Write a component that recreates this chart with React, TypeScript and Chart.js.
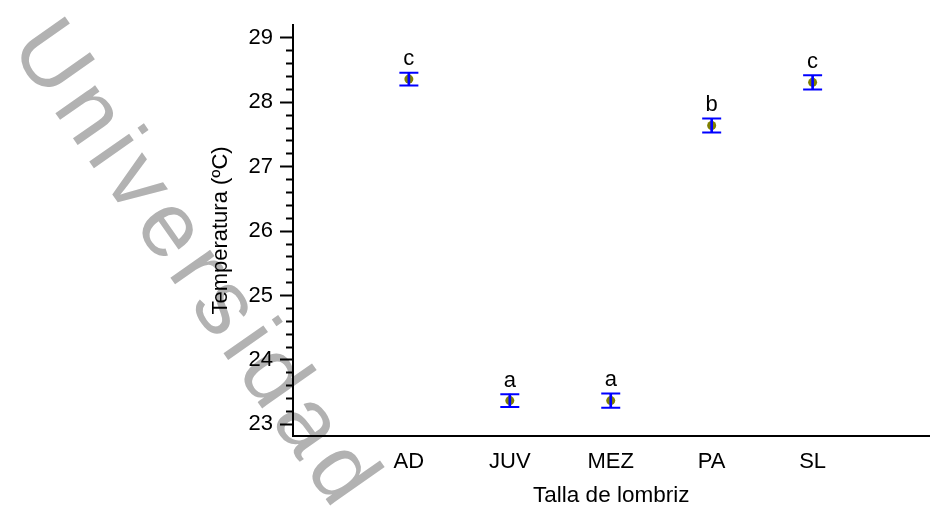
import React, { useEffect, useRef } from 'react';
import { Chart, registerables } from 'chart.js';

Chart.register(...registerables);

const categories = ['AD', 'JUV', 'MEZ', 'PA', 'SL'];
const means = [28.36, 23.37, 23.37, 27.64, 28.31];
const errors = [0.10, 0.10, 0.11, 0.11, 0.11];
const letters = ['c', 'a', 'a', 'b', 'c'];
const yMajorTicks = [23, 24, 25, 26, 27, 28, 29];
const yMinorTicks = [
  23.2, 23.4, 23.6, 23.8, 24.2, 24.4, 24.6, 24.8, 25.2, 25.4, 25.6, 25.8,
  26.2, 26.4, 26.6, 26.8, 27.2, 27.4, 27.6, 27.8, 28.2, 28.4, 28.6, 28.8,
];
const xTitle = 'Talla de lombriz';
const yTitle = 'Temperatura (ºC)';
const watermarkText = 'Universidad';

const FONT = "'Liberation Sans', Arial, Helvetica, sans-serif";

export default function App() {
  const ref = useRef<HTMLCanvasElement>(null);

  useEffect(() => {
    const canvas = ref.current;
    if (!canvas) return;
    const xs = categories.map((_, i) => i + 1);

    const watermark = {
      id: 'watermark',
      beforeDraw(chart: any) {
        const ctx = chart.ctx;
        ctx.save();
        ctx.translate(9, 47);
        ctx.rotate((55 * Math.PI) / 180);
        ctx.font = `92px ${FONT}`;
        try {
          (ctx as any).letterSpacing = '8px';
        } catch (e) {
          /* ignore */
        }
        ctx.fillStyle = '#b2b2b2';
        ctx.textAlign = 'left';
        ctx.textBaseline = 'alphabetic';
        ctx.fillText(watermarkText, 0, 0);
        ctx.restore();
      },
    };

    const letterPlugin = {
      id: 'letters',
      afterDatasetsDraw(chart: any) {
        const { ctx } = chart;
        const x = chart.scales.x;
        const y = chart.scales.y;
        ctx.save();
        ctx.font = `22px ${FONT}`;
        ctx.fillStyle = '#000';
        ctx.textAlign = 'center';
        ctx.textBaseline = 'alphabetic';
        letters.forEach((l, i) => {
          ctx.fillText(l, x.getPixelForValue(xs[i]), y.getPixelForValue(means[i] + errors[i]) - 7.5);
        });
        ctx.restore();
      },
    };

    const chart = new Chart(canvas, {
      type: 'scatter',
      data: {
        datasets: [
          {
            type: 'scatter',
            label: 'upper',
            data: xs.map((x, i) => ({ x, y: means[i] + errors[i] })),
            pointStyle: 'line',
            pointRadius: 9.5,
            pointHoverRadius: 9.5,
            borderColor: '#0000ff',
            borderWidth: 2,
            order: 0,
          },
          {
            type: 'scatter',
            label: 'lower',
            data: xs.map((x, i) => ({ x, y: means[i] - errors[i] })),
            pointStyle: 'line',
            pointRadius: 9.5,
            pointHoverRadius: 9.5,
            borderColor: '#0000ff',
            borderWidth: 2,
            order: 0,
          },
          {
            type: 'bar',
            label: 'stem',
            data: xs.map((x, i) => ({ x, y: [means[i] - errors[i], means[i] + errors[i]] })) as any,
            backgroundColor: '#0000ff',
            borderWidth: 0,
            barThickness: 2,
            grouped: false,
            order: 1,
          } as any,
          {
            type: 'scatter',
            label: 'mean',
            data: xs.map((x, i) => ({ x, y: means[i] })),
            pointStyle: 'circle',
            pointRadius: 4.5,
            pointHoverRadius: 4.5,
            backgroundColor: '#808000',
            borderWidth: 0,
            order: 2,
          },
        ],
      },
      options: {
        responsive: false,
        animation: false,
        devicePixelRatio: 1,
        layout: { padding: { left: 208, top: 25, right: 0, bottom: 0 } },
        plugins: {
          legend: { display: false },
          tooltip: { enabled: false },
        },
        scales: {
          x: {
            type: 'linear',
            position: 'bottom',
            min: -0.148,
            max: 6.158,
            offset: false,
            afterBuildTicks: (s: any) => {
              s.ticks = xs.map((v) => ({ value: v }));
            },
            afterFit: (s: any) => {
              s.height = 74;
            },
            ticks: {
              callback: (v: any) => categories[Math.round(Number(v)) - 1] ?? '',
              font: { family: FONT, size: 22 },
              color: '#000',
              padding: 13,
              maxRotation: 0,
              autoSkip: false,
            },
            grid: { display: true, drawOnChartArea: false, drawTicks: false, offset: false },
            border: { display: true, color: '#000', width: 2 },
            title: {
              display: true,
              text: xTitle,
              font: { family: FONT, size: 22.5 },
              color: '#000',
              padding: { top: 0, bottom: 1 },
            },
          },
          y: {
            type: 'linear',
            position: 'left',
            weight: 1,
            min: 22.82,
            max: 29.2,
            afterBuildTicks: (s: any) => {
              s.ticks = yMajorTicks.map((v) => ({ value: v }));
            },
            afterFit: (s: any) => {
              s.width = 85;
            },
            ticks: {
              callback: (v: any) => String(v),
              font: { family: FONT, size: 22 },
              color: '#000',
              padding: 7,
            },
            grid: { drawOnChartArea: false, drawTicks: true, tickLength: 13, tickWidth: 2, tickColor: '#000' },
            border: { display: true, color: '#000', width: 2 },
            title: {
              display: true,
              text: yTitle,
              font: { family: FONT, size: 22 },
              color: '#000',
              padding: 0,
            },
          },
          y2: {
            type: 'linear',
            position: 'left',
            weight: 0,
            min: 22.82,
            max: 29.2,
            afterBuildTicks: (s: any) => {
              s.ticks = yMinorTicks.map((v) => ({ value: v }));
            },
            afterFit: (s: any) => {
              s.width = 0;
            },
            ticks: { display: false },
            grid: { drawOnChartArea: false, drawTicks: true, tickLength: 7, tickWidth: 2, tickColor: '#000' },
            border: { display: false },
          },
        },
      } as any,
      plugins: [watermark, letterPlugin],
    });

    return () => chart.destroy();
  }, []);

  return (
    <div style={{ position: 'absolute', left: 0, top: 0, width: 931, height: 507, overflow: 'hidden', background: '#fff' }}>
      <canvas ref={ref} width={941} height={510} style={{ width: '941px', height: '510px', display: 'block' }} />
    </div>
  );
}
